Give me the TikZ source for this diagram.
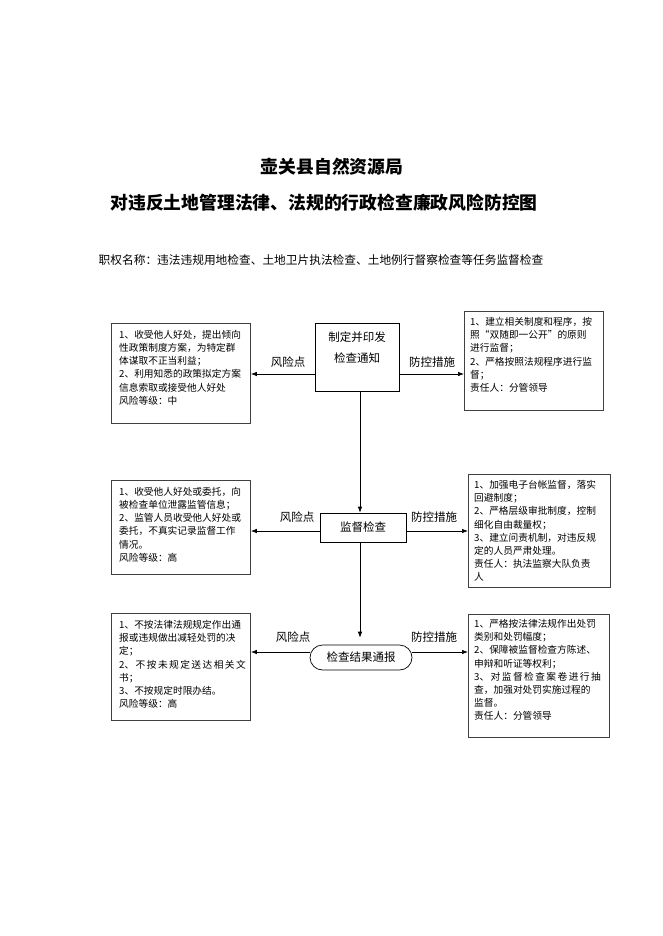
\documentclass[tikz,border=0pt]{standalone}
\usepackage{fontspec}
\setmainfont{Noto Sans CJK SC}
\usetikzlibrary{arrows.meta,positioning}

\newcommand\fillline[1]{\makebox[121pt][s]{#1}}

\begin{document}
\begin{tikzpicture}[
    x=1pt, y=-1pt,
    sidebox/.style={draw=black!75, line width=0.9pt, anchor=north west},
    stepbox/.style={draw, line width=0.7pt, font=\fontsize{11.5}{21}\selectfont, align=center},
    boxtext/.style={anchor=north west, inner sep=0pt, align=left, font=\fontsize{9.7}{13.2}\selectfont},
    tag/.style={font=\fontsize{11.5}{14}\selectfont},
    arrow/.style={-{Latex[length=6pt,width=4.5pt]}, line width=0.7pt}
]
\useasboundingbox (0,0) rectangle (662,936);

% Titles
\node[font=\fontsize{17.8}{21}\selectfont\bfseries] (title) at (332,167) {壶关县自然资源局};
\node[font=\fontsize{17.8}{21}\selectfont\bfseries] (subtitle) at (324,203) {对违反土地管理法律、法规的行政检查廉政风险防控图};
\node[font=\fontsize{11.7}{14}\selectfont] (duty) at (321,260) {职权名称：违法违规用地检查、土地卫片执法检查、土地例行督察检查等任务监督检查};

% Steps
\coordinate (axis) at (360,0);
\node[stepbox, minimum width=84pt, minimum height=68pt] (notice) at (357,357) {};
\node[font=\fontsize{11.5}{21}\selectfont, align=center] (noticetext) at ([yshift=9pt]notice.center) {制定并印发\\检查通知};
\node[stepbox, minimum width=86pt, minimum height=29pt] (check) at (363,527.5) {监督检查};
\node[stepbox, minimum width=102pt, minimum height=25pt, rounded corners=12.5pt] (report) at (361,657.5) {检查结果通报};

% Risk points
\node[sidebox, minimum width=139pt, minimum height=100pt] (risk1) at (111,323) {};
\node[boxtext] (risktext1) at ([shift={(8,7)}]risk1.north west) {1、收受他人好处，提出倾向\\性政策制度方案，为特定群\\体谋取不正当利益；\\2、利用知悉的政策拟定方案\\信息索取或接受他人好处\\风险等级：中};

\node[sidebox, minimum width=139pt, minimum height=94pt] (risk2) at (111,480) {};
\node[boxtext] (risktext2) at ([shift={(8,7)}]risk2.north west) {1、收受他人好处或委托，向\\被检查单位泄露监管信息；\\2、监管人员收受他人好处或\\委托，不真实记录监督工作\\情况。\\风险等级：高};

\node[sidebox, minimum width=139pt, minimum height=107pt] (risk3) at (111,613) {};
\node[boxtext] (risktext3) at ([shift={(8,7)}]risk3.north west) {1、不按法律法规规定作出通\\报或违规做出减轻处罚的决\\定；\\\fillline{2、 不 按 未 规 定 送 达 相 关 文}\\书；\\3、不按规定时限办结。\\风险等级：高};

% Control measures
\node[sidebox, minimum width=139pt, minimum height=99pt] (ctrl1) at (464,311) {};
\node[boxtext] (ctrltext1) at ([shift={(6,6)}]ctrl1.north west) {1、建立相关制度和程序，按\\照“双随即一公开”的原则\\进行监督；\\2、严格按照法规程序进行监\\督；\\责任人：分管领导};

\node[sidebox, minimum width=142pt, minimum height=113pt] (ctrl2) at (468,474) {};
\node[boxtext] (ctrltext2) at ([shift={(6,6)}]ctrl2.north west) {1、加强电子台帐监督，落实\\回避制度；\\2、严格层级审批制度，控制\\细化自由裁量权；\\3、建立问责机制，对违反规\\定的人员严肃处理。\\责任人：执法监察大队负责\\人};

\node[sidebox, minimum width=141pt, minimum height=123pt] (ctrl3) at (468,614) {};
\node[boxtext] (ctrltext3) at ([shift={(6,5)}]ctrl3.north west) {1、严格按法律法规作出处罚\\类别和处罚幅度；\\2、保障被监督检查方陈述、\\申辩和听证等权利；\\\fillline{3、 对 监 督 检 查 案 卷 进 行 抽}\\查，加强对处罚实施过程的\\监督。\\责任人：分管领导};

% Flow
\draw[arrow] (notice.south -| axis) -- (check.north -| axis);
\draw[arrow, shorten >=7pt] (check.south -| axis) -- (report.north -| axis);

% Branches
\draw[arrow] ([yshift=-17pt]notice.west) coordinate (r1) -- (r1 -| risk1.east);
\draw[arrow] ([yshift=-17pt]notice.east) coordinate (m1) -- (m1 -| ctrl1.west);
\draw[arrow] ([yshift=-3.5pt]check.west) coordinate (r2) -- (r2 -| risk2.east);
\draw[arrow] ([yshift=-3.5pt]check.east) coordinate (m2) -- (m2 -| ctrl2.west);
\draw[arrow] ([yshift=5.5pt]report.west) coordinate (r3) -- (r3 -| risk3.east);
\draw[arrow] ([yshift=5.5pt]report.east) coordinate (m3) -- (m3 -| ctrl3.west);

% Tags
\node[tag] (risktag1) at (288,362) {风险点};
\node[tag] (ctrltag1) at (432,362) {防控措施};
\node[tag] (risktag2) at (297,517) {风险点};
\node[tag] (ctrltag2) at (434,517) {防控措施};
\node[tag] (risktag3) at (293,637) {风险点};
\node[tag] (ctrltag3) at (434,637) {防控措施};

\end{tikzpicture}
\end{document}
